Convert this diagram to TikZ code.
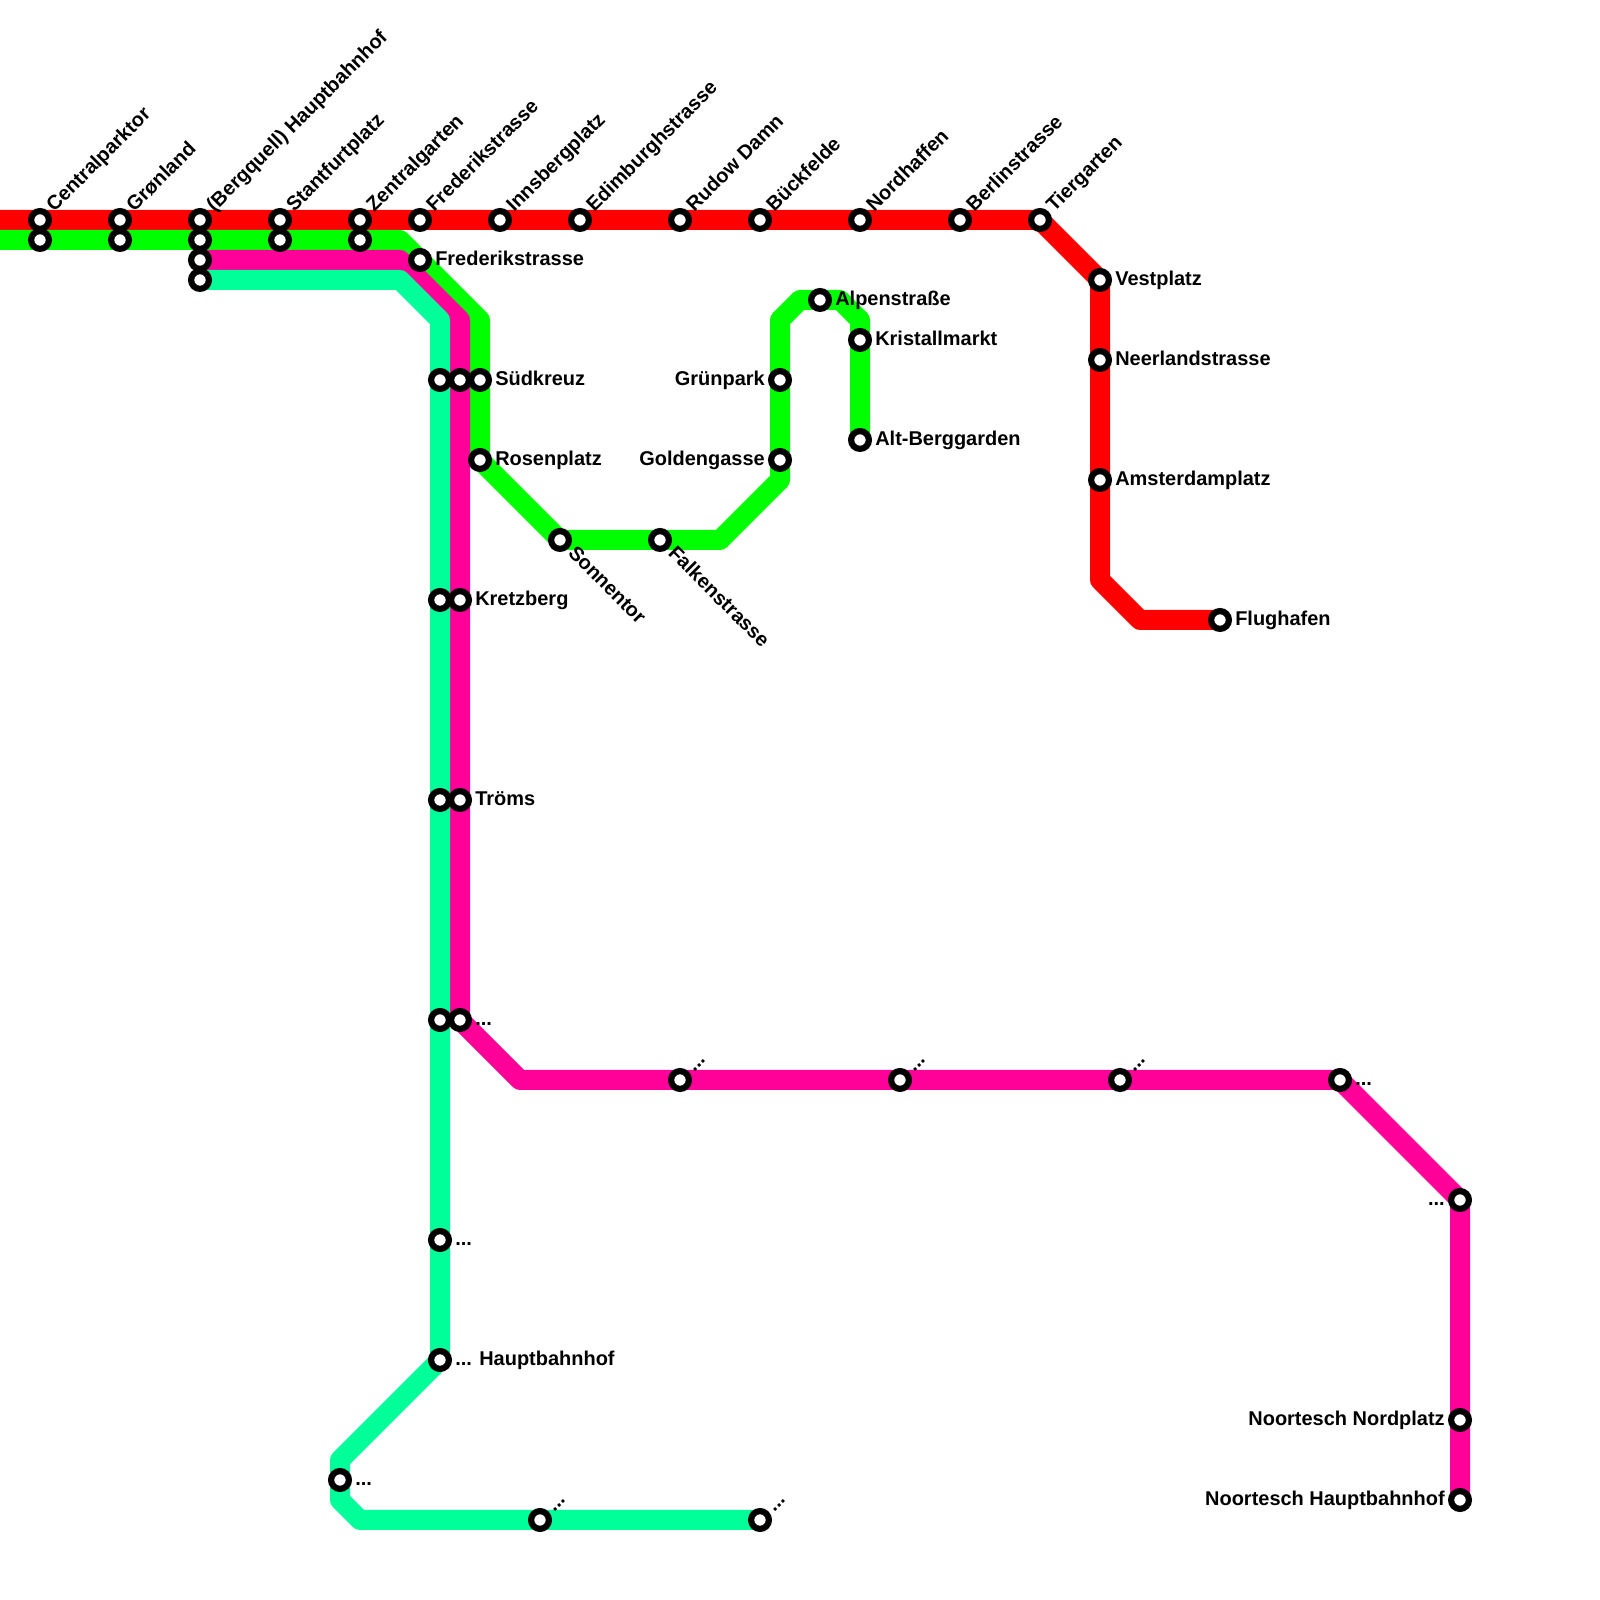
\documentclass[tikz,border=0pt]{standalone}
\usepackage{fontspec}
\setmainfont{Liberation Sans}
\usetikzlibrary{backgrounds}
\definecolor{linieRot}{HTML}{FF0000}
\definecolor{linieGruen}{HTML}{00FF00}
\definecolor{liniePink}{HTML}{FF0099}
\definecolor{linieTuerkis}{HTML}{00FF99}
\tikzset{
    halt/.style={circle, draw=black, fill=white, line width=1.55mm, minimum size=4.45mm, inner sep=0pt, outer sep=0pt},
    linie/.style={line width=5mm, line join=round},
    schild/.style={font=\fontsize{14.2pt}{16pt}\selectfont\bfseries, inner sep=0pt, text=black},
    schildR/.style={schild, anchor=base west, xshift=3.75mm, yshift=-1.5mm},
    schildL/.style={schild, anchor=base east, xshift=-3.75mm, yshift=-1.5mm},
    schildO/.style={schild, anchor=base west, rotate=45, xshift=3.75mm, yshift=-1.25mm},
    schildU/.style={schild, anchor=base west, rotate=-45, xshift=3.75mm, yshift=-1.25mm},
}
\begin{document}
\begin{tikzpicture}
    \useasboundingbox (0mm,0mm) rectangle (400mm,400mm);                 % Blatt
    % Halte rot
    \node[halt] (rCentral)  at (10mm,345mm) {};
    \node[halt] (rGron)     at (30mm,345mm) {};
    \node[halt] (rBerg)     at (50mm,345mm) {};
    \node[halt] (rStant)    at (70mm,345mm) {};
    \node[halt] (rZentral)  at (90mm,345mm) {};
    \node[halt] (rFreder)   at (105mm,345mm) {};
    \node[halt] (rInns)     at (125mm,345mm) {};
    \node[halt] (rEdin)     at (145mm,345mm) {};
    \node[halt] (rRudow)    at (170mm,345mm) {};
    \node[halt] (rBueck)    at (190mm,345mm) {};
    \node[halt] (rNord)     at (215mm,345mm) {};
    \node[halt] (rBerlin)   at (240mm,345mm) {};
    \node[halt] (rTier)     at (260mm,345mm) {};
    \node[halt] (rVest)     at (275mm,330mm) {};
    \node[halt] (rNeer)     at (275mm,310mm) {};
    \node[halt] (rAmst)     at (275mm,280mm) {};
    \node[halt] (rFlug)     at (305mm,245mm) {};
    % Halte gruen
    \node[halt] (gCentral)  at (10mm,340mm) {};
    \node[halt] (gGron)     at (30mm,340mm) {};
    \node[halt] (gBerg)     at (50mm,340mm) {};
    \node[halt] (gStant)    at (70mm,340mm) {};
    \node[halt] (gZentral)  at (90mm,340mm) {};
    \node[halt] (gSued)     at (120mm,305mm) {};
    \node[halt] (gRosen)    at (120mm,285mm) {};
    \node[halt] (gSonnen)   at (140mm,265mm) {};
    \node[halt] (gFalken)   at (165mm,265mm) {};
    \node[halt] (gGolden)   at (195mm,285mm) {};
    \node[halt] (gGruen)    at (195mm,305mm) {};
    \node[halt] (gAlpen)    at (205mm,325mm) {};
    \node[halt] (gKrist)    at (215mm,315mm) {};
    \node[halt] (gAlt)      at (215mm,290mm) {};
    % Halte pink
    \node[halt] (pBerg)     at (50mm,335mm) {};
    \node[halt] (pFreder)   at (105mm,335mm) {};
    \node[halt] (pSued)     at (115mm,305mm) {};
    \node[halt] (pKretz)    at (115mm,250mm) {};
    \node[halt] (pTroems)   at (115mm,200mm) {};
    \node[halt] (pPunkt)    at (115mm,145mm) {};
    \node[halt] (pOstA)     at (170mm,130mm) {};
    \node[halt] (pOstB)     at (225mm,130mm) {};
    \node[halt] (pOstC)     at (280mm,130mm) {};
    \node[halt] (pOstD)     at (335mm,130mm) {};
    \node[halt] (pOstE)     at (365mm,100mm) {};
    \node[halt] (pNoortN)   at (365mm,45mm) {};
    \node[halt] (pNoortH)   at (365mm,25mm) {};
    % Halte tuerkis
    \node[halt] (tBerg)     at (50mm,330mm) {};
    \node[halt] (tSued)     at (110mm,305mm) {};
    \node[halt] (tKretz)    at (110mm,250mm) {};
    \node[halt] (tTroems)   at (110mm,200mm) {};
    \node[halt] (tPunkt)    at (110mm,145mm) {};
    \node[halt] (tSuedA)    at (110mm,90mm) {};
    \node[halt] (tHaupt)    at (110mm,60mm) {};
    \node[halt] (tWest)     at (85mm,30mm) {};
    \node[halt] (tUntenA)   at (135mm,20mm) {};
    \node[halt] (tUntenB)   at (190mm,20mm) {};
    % Knicke
    \coordinate (rStart) at (0mm,345mm);
    \coordinate (rKnick) at (275mm,255mm);
    \coordinate (rKnickB) at (285mm,245mm);
    \coordinate (gStart) at (0mm,340mm);
    \coordinate (gKnickA) at (100mm,340mm);
    \coordinate (gKnickB) at (120mm,320mm);
    \coordinate (gKnickC) at (180mm,265mm);
    \coordinate (gKnickD) at (195mm,280mm);
    \coordinate (gKnickE) at (195mm,320mm);
    \coordinate (gKnickF) at (200mm,325mm);
    \coordinate (gKnickG) at (210mm,325mm);
    \coordinate (gKnickH) at (215mm,320mm);
    \coordinate (pKnickA) at (100mm,335mm);
    \coordinate (pKnickB) at (115mm,320mm);
    \coordinate (pKnickC) at (130mm,130mm);
    \coordinate (tKnickA) at (100mm,330mm);
    \coordinate (tKnickB) at (110mm,320mm);
    \coordinate (tKnickC) at (85mm,35mm);
    \coordinate (tKnickD) at (85mm,25mm);
    \coordinate (tKnickE) at (90mm,20mm);
    % Linien
    \begin{scope}[on background layer]
        \draw[linie, linieRot] (rStart) -- (rTier.center) -- (rVest.center) -- (rKnick) -- (rKnickB) -- (rFlug.center);     % rot
        \draw[linie, linieGruen] (gStart) -- (gKnickA) -- (gKnickB) -- (gRosen.center) -- (gSonnen.center) -- (gKnickC) -- (gKnickD) -- (gKnickE) -- (gKnickF) -- (gKnickG) -- (gKnickH) -- (gAlt.center);     % gruen
        \draw[linie, liniePink] (pBerg.center) -- (pKnickA) -- (pKnickB) -- (pPunkt.center) -- (pKnickC) -- (pOstD.center) -- (pOstE.center) -- (pNoortH.center);     % pink
        \draw[linie, linieTuerkis] (tBerg.center) -- (tKnickA) -- (tKnickB) -- (tHaupt.center) -- (tKnickC) -- (tKnickD) -- (tKnickE) -- (tUntenB.center);     % tuerkis
    \end{scope}
    % Schilder oben
    \node[schildO] (nCentral) at (rCentral) {Centralparktor};
    \node[schildO] (nGron)    at (rGron)    {Grønland};
    \node[schildO] (nBerg)    at (rBerg)    {(Bergquell) Hauptbahnhof};
    \node[schildO] (nStant)   at (rStant)   {Stantfurtplatz};
    \node[schildO] (nZentral) at (rZentral) {Zentralgarten};
    \node[schildO] (nFreder)  at (rFreder)  {Frederikstrasse};
    \node[schildO] (nInns)    at (rInns)    {Innsbergplatz};
    \node[schildO] (nEdin)    at (rEdin)    {Edimburghstrasse};
    \node[schildO] (nRudow)   at (rRudow)   {Rudow Damn};
    \node[schildO] (nBueck)   at (rBueck)   {Bückfelde};
    \node[schildO] (nNord)    at (rNord)    {Nordhaffen};
    \node[schildO] (nBerlin)  at (rBerlin)  {Berlinstrasse};
    \node[schildO] (nTier)    at (rTier)    {Tiergarten};
    \node[schildO] (nOstA)    at (pOstA)    {...};
    \node[schildO] (nOstB)    at (pOstB)    {...};
    \node[schildO] (nOstC)    at (pOstC)    {...};
    \node[schildO] (nUntenA)  at (tUntenA)  {...};
    \node[schildO] (nUntenB)  at (tUntenB)  {...};
    % Schilder unten
    \node[schildU] (nSonnen)  at (gSonnen)  {Sonnentor};
    \node[schildU] (nFalken)  at (gFalken)  {Falkenstrasse};
    % Schilder rechts
    \node[schildR] (nVest)    at (rVest)    {Vestplatz};
    \node[schildR] (nNeer)    at (rNeer)    {Neerlandstrasse};
    \node[schildR] (nAmst)    at (rAmst)    {Amsterdamplatz};
    \node[schildR] (nFlug)    at (rFlug)    {Flughafen};
    \node[schildR] (nFrederB) at (pFreder)  {Frederikstrasse};
    \node[schildR] (nSued)    at (gSued)    {Südkreuz};
    \node[schildR] (nRosen)   at (gRosen)   {Rosenplatz};
    \node[schildR] (nAlpen)   at (gAlpen)   {Alpenstraße};
    \node[schildR] (nKrist)   at (gKrist)   {Kristallmarkt};
    \node[schildR] (nAlt)     at (gAlt)     {Alt-Berggarden};
    \node[schildR] (nKretz)   at (pKretz)   {Kretzberg};
    \node[schildR] (nTroems)  at (pTroems)  {Tröms};
    \node[schildR] (nPunkt)   at (pPunkt)   {...};
    \node[schildR] (nOstD)    at (pOstD)    {...};
    \node[schildR] (nSuedA)   at (tSuedA)   {...};
    \node[schildR] (nHaupt)   at (tHaupt)   {... Hauptbahnhof};
    \node[schildR] (nWest)    at (tWest)    {...};
    % Schilder links
    \node[schildL] (nGruen)   at (gGruen)   {Grünpark};
    \node[schildL] (nGolden)  at (gGolden)  {Goldengasse};
    \node[schildL] (nOstE)    at (pOstE)    {...};
    \node[schildL] (nNoortN)  at (pNoortN)  {Noortesch Nordplatz};
    \node[schildL] (nNoortH)  at (pNoortH)  {Noortesch Hauptbahnhof};
\end{tikzpicture}
\end{document}
